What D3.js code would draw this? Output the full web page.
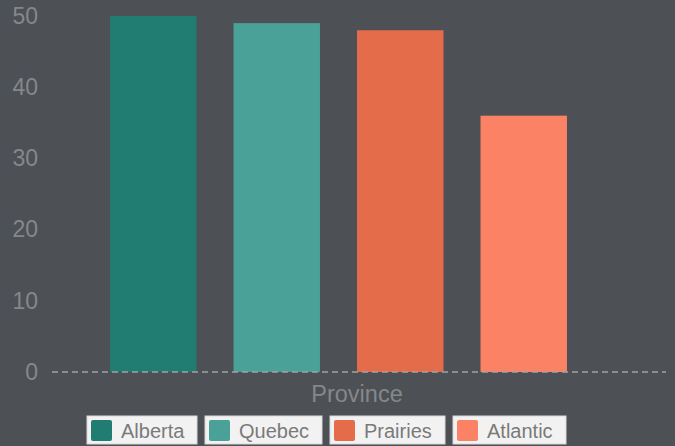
<!DOCTYPE html>
<html><head><meta charset="utf-8">
<script src="https://cdn.jsdelivr.net/npm/d3@7"></script>
<style>html,body{margin:0;padding:0;background:#4d5055;}svg{display:block;}</style>
</head><body>
<svg id="chart" width="675" height="446"></svg>
<script>
const categories = ["Alberta", "Quebec", "Prairies", "Atlantic"];
const values = [50, 49, 48, 36];
const colors = ["#217d72", "#4aa197", "#e56c4b", "#fb8265"];
const yTicks = [0, 10, 20, 30, 40, 50];
const xTitle = "Province";

const svg = d3.select("#chart");
svg.append("rect").attr("width", 675).attr("height", 446).attr("fill", "#4d5055");
const font = "Liberation Sans, Arial, sans-serif";
const txt = "#85888b";

const y = d3.scaleLinear().domain([0, 50]).range([372, 16]);
const x = d3.scaleBand().domain(categories).range([91.5, 585.5]).paddingInner(0.3).paddingOuter(0.15);

// y tick labels
const yAxis = d3.axisLeft(y).tickValues(yTicks).tickSize(0).tickPadding(0);
const gy = svg.append("g").attr("transform", "translate(38,0)").call(yAxis);
gy.select(".domain").remove();
gy.selectAll("text").attr("fill", txt).attr("font-size", 23).attr("font-family", font);

// bars
svg.selectAll("rect.bar").data(categories).enter().append("rect")
  .attr("class", "bar")
  .attr("x", d => x(d)).attr("width", x.bandwidth())
  .attr("y", (d, i) => y(values[i])).attr("height", (d, i) => y(0) - y(values[i]))
  .attr("fill", (d, i) => colors[i]);

// zero line
svg.append("line").attr("x1", 52).attr("x2", 666).attr("y1", y(0)).attr("y2", y(0))
  .attr("stroke", "#a0a2a5").attr("stroke-width", 1.5).attr("stroke-dasharray", "6,4");

// x title
svg.append("text").attr("x", 357).attr("y", 402).attr("text-anchor", "middle")
  .attr("fill", txt).attr("font-size", 23.5).attr("font-family", font).text(xTitle);

// legend
const legendX = [87, 205, 330, 453];
const legendW = [110, 117, 115, 113];
const lg = svg.append("g");
categories.forEach((c, i) => {
  const g = lg.append("g").attr("transform", `translate(${legendX[i]},416)`);
  g.append("rect").attr("width", legendW[i]).attr("height", 28).attr("fill", "#f2f2f2")
    .attr("stroke", "#d8d8d8").attr("stroke-width", 1);
  g.append("rect").attr("x", 4).attr("y", 4).attr("width", 21).attr("height", 21).attr("rx", 2).attr("fill", colors[i]);
  g.append("text").attr("x", 34).attr("y", 22).attr("fill", "#7a7a7a").attr("font-size", 20)
    .attr("font-family", font).text(c);
});
</script>
</body></html>
